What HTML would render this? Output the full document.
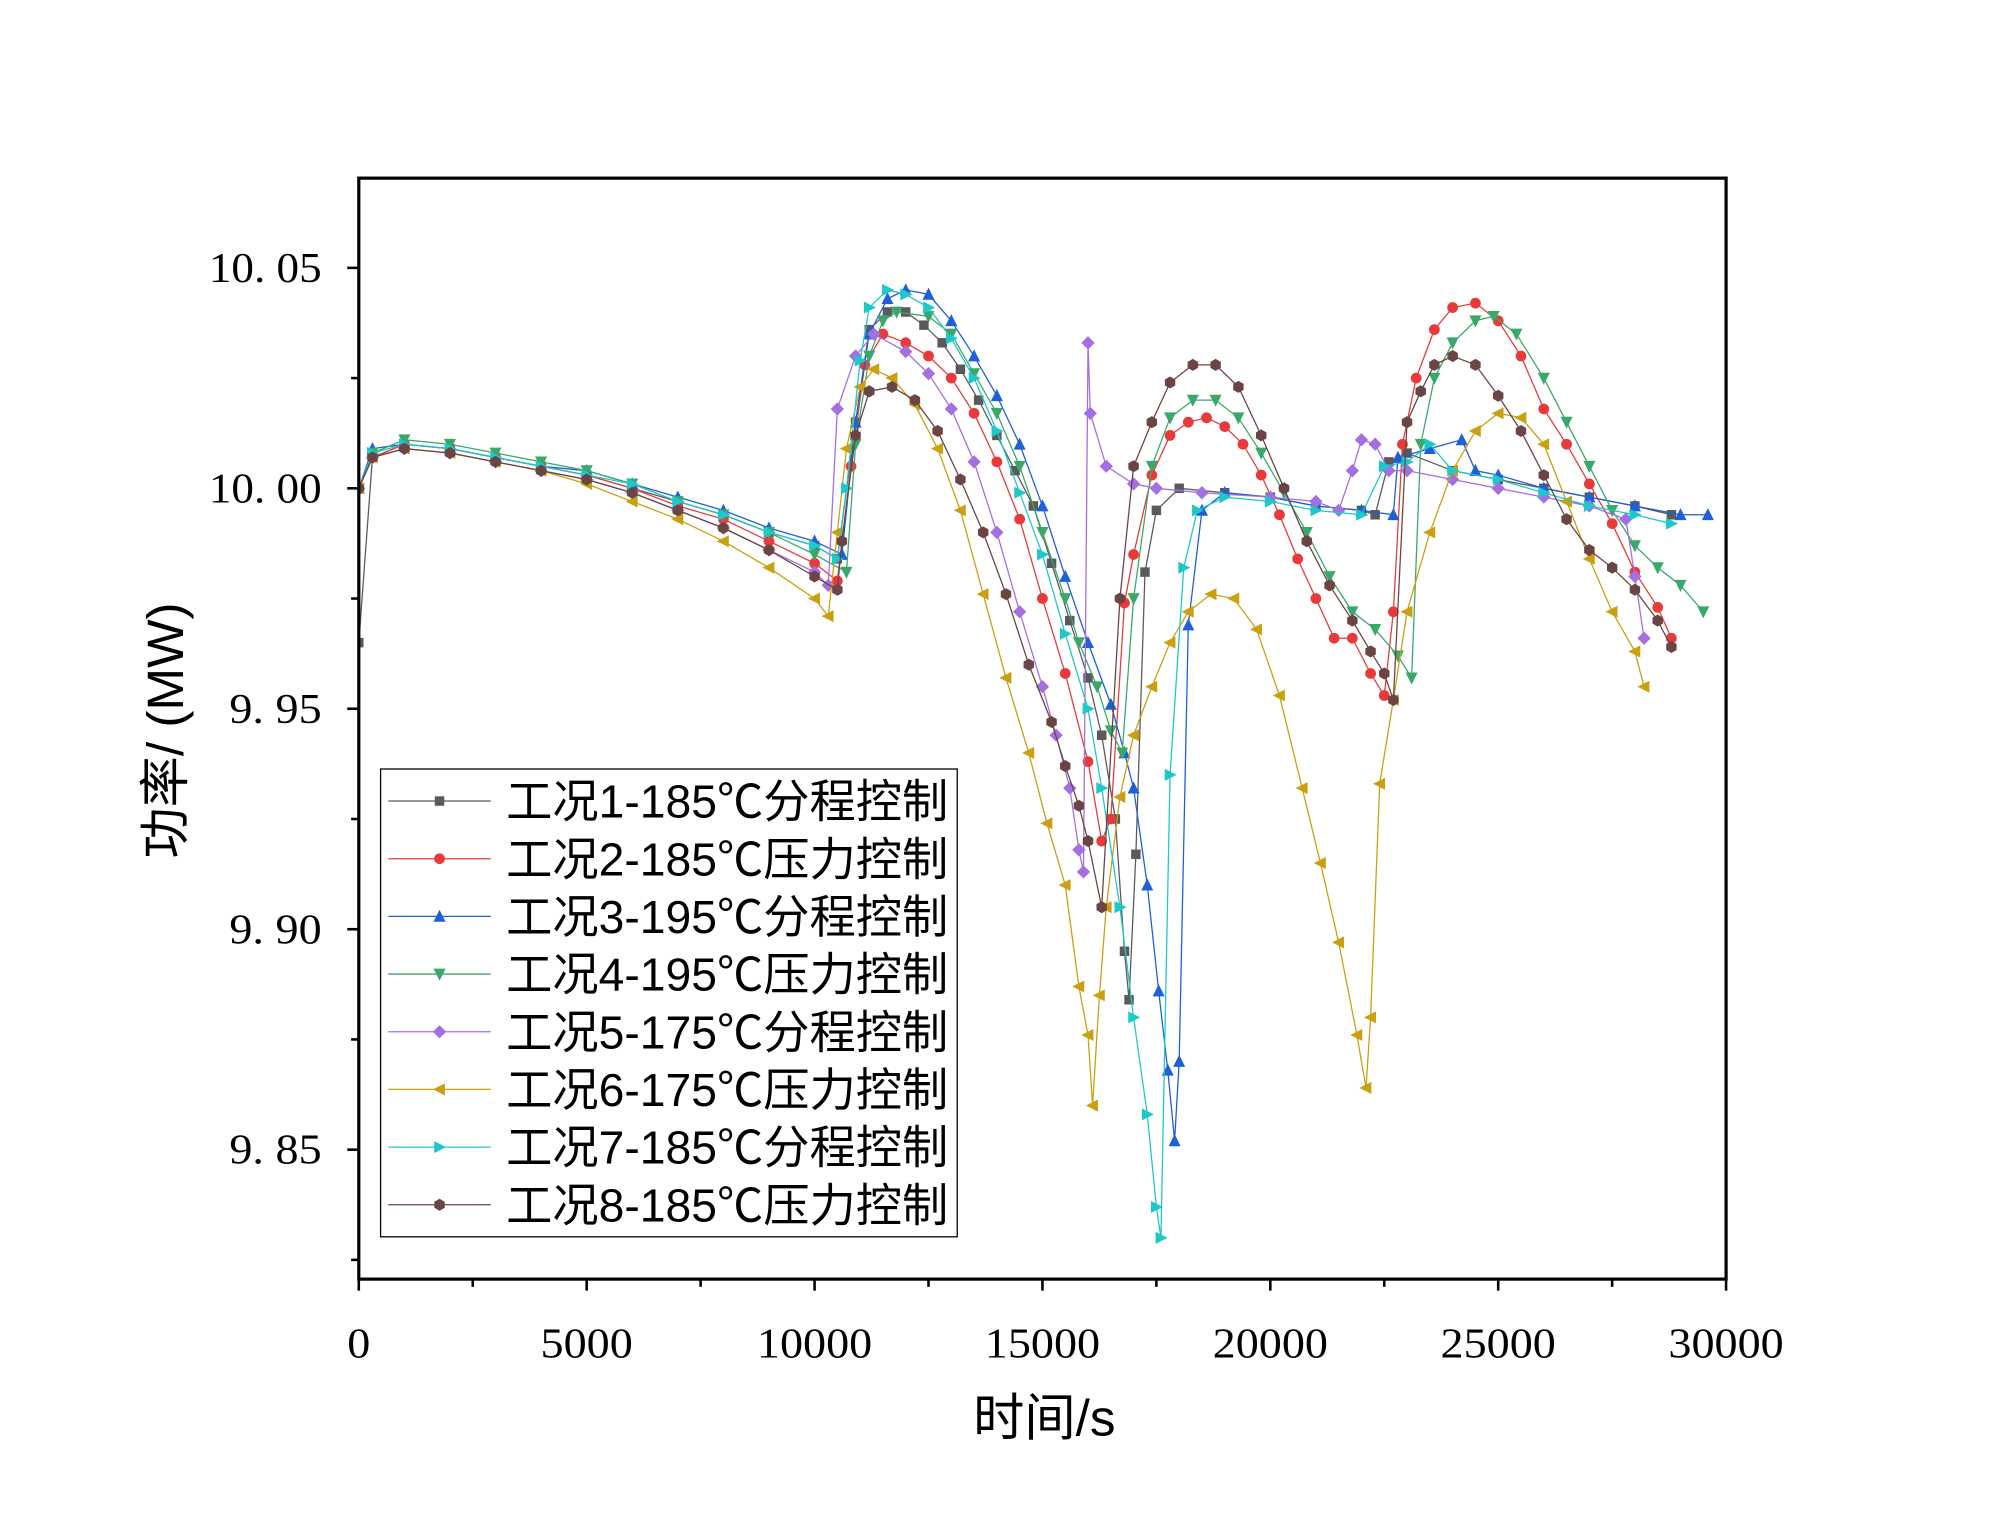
<!DOCTYPE html>
<html><head><meta charset="utf-8"><style>
html,body{margin:0;padding:0;background:#fff}
svg{display:block}
</style></head><body>
<svg id="chart" xmlns="http://www.w3.org/2000/svg" width="2008" height="1538" viewBox="0 0 1567 1200" preserveAspectRatio="none">
<rect width="1567" height="1200" fill="#fff"/>
<g id="plot"></g>
<rect x="280" y="139" width="1067" height="859" fill="none" stroke="#000" stroke-width="2.5"/>
<g id="axes"></g>
<text x="815" y="1120" text-anchor="middle" font-family="'Liberation Sans','Noto Sans CJK SC',sans-serif" font-size="40">时间/s</text>
<text transform="translate(143,570) rotate(-90)" text-anchor="middle" font-family="'Liberation Sans','Noto Sans CJK SC',sans-serif" font-size="40">功率/ (MW)</text>
<g id="legend"></g>
</svg>
<script>
const xTicks=[0,5000,10000,15000,20000,25000,30000];
const yTicks=[9.85,9.90,9.95,10.00,10.05];
const yTickLabels=["9. 85","9. 90","9. 95","10. 00","10. 05"];
const seriesNames=["工况1-185℃分程控制","工况2-185℃压力控制","工况3-195℃分程控制","工况4-195℃压力控制","工况5-175℃分程控制","工况6-175℃压力控制","工况7-185℃分程控制","工况8-185℃压力控制"];
const base=[0,300,1000,2000,3000,4000,5000,6000,7000,8000,9000,10000];
const x1=[...base,10500,10900,11200,11600,12000,12400,12800,13200,13600,14000,14400,14800,15200,15600,16000,16300,16600,16800,16900,17050,17250,17500,18000,19000,20000,21000,22000,22300,22600,23000,24000,25000,26000,27000,28000,28800];
const y1=[9.965,10.007,10.010,10.009,10.007,10.005,10.003,10.000,9.997,9.994,9.990,9.987,9.984,10.015,10.036,10.040,10.040,10.037,10.033,10.027,10.020,10.012,10.004,9.996,9.983,9.970,9.957,9.944,9.925,9.895,9.884,9.917,9.981,9.995,10.000,9.999,9.998,9.996,9.995,9.994,10.006,10.008,10.004,10.002,10.000,9.998,9.996,9.994];
const x2=[...base,10500,10800,11100,11500,12000,12500,13000,13500,14000,14500,15000,15500,16000,16300,16500,16800,17000,17400,17800,18200,18600,19000,19400,19800,20200,20600,21000,21400,21800,22200,22500,22700,22900,23200,23600,24000,24500,25000,25500,26000,26500,27000,27500,28000,28500,28800];
const y2=[10.000,10.007,10.010,10.009,10.007,10.005,10.003,10.000,9.996,9.993,9.988,9.983,9.979,10.005,10.028,10.035,10.033,10.030,10.025,10.017,10.006,9.993,9.975,9.958,9.938,9.920,9.925,9.974,9.985,10.003,10.012,10.015,10.016,10.014,10.010,10.003,9.994,9.984,9.975,9.966,9.966,9.958,9.953,9.972,10.010,10.025,10.036,10.041,10.042,10.038,10.030,10.018,10.010,10.001,9.992,9.981,9.973,9.966];
const x3=[...base,10600,10900,11200,11600,12000,12500,13000,13500,14000,14500,15000,15500,16000,16500,16800,17000,17300,17550,17750,17900,18000,18200,18500,19000,20000,21000,22000,22700,22800,23500,24200,24500,25000,26000,27000,28000,29000,29600];
const y3=[10.000,10.009,10.010,10.009,10.007,10.005,10.004,10.001,9.998,9.995,9.991,9.988,9.985,10.015,10.035,10.043,10.045,10.044,10.038,10.030,10.021,10.010,9.996,9.980,9.965,9.951,9.940,9.932,9.910,9.886,9.868,9.852,9.870,9.969,9.995,9.999,9.998,9.996,9.995,9.994,10.007,10.009,10.011,10.004,10.003,10.000,9.998,9.996,9.994,9.994];
const x4=[...base,10700,10900,11200,11500,11800,12500,13000,13500,14000,14500,15000,15500,15800,16200,16500,16750,17000,17400,17800,18300,18800,19300,19800,20300,20800,21300,21800,22300,22800,23100,23300,23600,24000,24500,24900,25400,26000,26500,27000,27500,28000,28500,29000,29500];
const y4=[10.000,10.008,10.011,10.010,10.008,10.006,10.004,10.001,9.997,9.994,9.990,9.985,9.981,10.010,10.030,10.038,10.040,10.039,10.035,10.026,10.017,10.005,9.990,9.975,9.965,9.955,9.945,9.940,9.975,10.005,10.016,10.020,10.020,10.016,10.008,9.999,9.990,9.980,9.972,9.968,9.962,9.957,10.010,10.025,10.033,10.038,10.039,10.035,10.025,10.015,10.005,9.995,9.987,9.982,9.978,9.972];
const x5=[...base,10300,10500,10900,11300,12000,12500,13000,13500,14000,14500,15000,15300,15600,15800,15900,16000,16050,16400,17000,17500,18500,20000,21000,21500,21800,22000,22300,22600,23000,24000,25000,26000,27000,27800,28000,28200];
const y5=[10.000,10.007,10.009,10.008,10.006,10.004,10.002,9.999,9.995,9.991,9.986,9.981,9.978,10.018,10.030,10.035,10.031,10.026,10.018,10.006,9.990,9.972,9.955,9.944,9.932,9.918,9.913,10.033,10.017,10.005,10.001,10.000,9.999,9.998,9.997,9.995,10.004,10.011,10.010,10.004,10.004,10.002,10.000,9.998,9.996,9.993,9.980,9.966];
const x6=[...base,10300,10500,10700,11000,11300,11700,12200,12700,13200,13700,14200,14700,15100,15500,15800,16000,16100,16250,16400,16700,17000,17400,17800,18200,18700,19200,19700,20200,20700,21100,21500,21900,22100,22200,22400,22700,23000,23500,24000,24500,25000,25500,26000,26500,27000,27500,28000,28200];
const y6=[10.000,10.007,10.009,10.008,10.006,10.004,10.001,9.997,9.993,9.988,9.982,9.975,9.971,9.990,10.009,10.023,10.027,10.025,10.019,10.009,9.995,9.976,9.957,9.940,9.924,9.910,9.887,9.876,9.860,9.885,9.905,9.930,9.944,9.955,9.965,9.972,9.976,9.975,9.968,9.953,9.932,9.915,9.897,9.876,9.864,9.880,9.933,9.952,9.972,9.990,10.004,10.013,10.017,10.016,10.010,9.997,9.984,9.972,9.963,9.955];
const x7=[...base,10500,10700,11000,11200,11600,12000,12500,13000,13500,14000,14500,15000,15500,16000,16300,16700,17000,17300,17500,17600,17800,18100,18400,19000,20000,21000,22000,22500,23000,23500,24000,25000,26000,27000,28000,28800];
const y7=[10.000,10.008,10.010,10.009,10.007,10.005,10.003,10.001,9.997,9.994,9.990,9.987,9.984,10.000,10.029,10.041,10.045,10.044,10.041,10.034,10.025,10.013,9.999,9.985,9.967,9.950,9.932,9.905,9.880,9.858,9.837,9.830,9.935,9.982,9.995,9.998,9.997,9.995,9.994,10.005,10.006,10.010,10.004,10.002,9.999,9.996,9.994,9.992];
const x8=[...base,10500,10600,10900,11200,11700,12200,12700,13200,13700,14200,14700,15200,15500,15800,16000,16300,16700,17000,17400,17800,18300,18800,19300,19800,20300,20800,21300,21800,22200,22500,22700,23000,23300,23600,24000,24500,25000,25500,26000,26500,27000,27500,28000,28500,28800];
const y8=[10.000,10.007,10.009,10.008,10.006,10.004,10.002,9.999,9.995,9.991,9.986,9.980,9.977,9.988,10.012,10.022,10.023,10.020,10.013,10.002,9.990,9.976,9.960,9.947,9.937,9.928,9.920,9.905,9.975,10.005,10.015,10.024,10.028,10.028,10.023,10.012,10.000,9.988,9.978,9.970,9.963,9.958,9.952,10.015,10.022,10.028,10.030,10.028,10.021,10.013,10.003,9.993,9.986,9.982,9.977,9.970,9.964];

const XS=[x1,x2,x3,x4,x5,x6,x7,x8];
const YS=[y1,y2,y3,y4,y5,y6,y7,y8];
const colors=["#5a5a5a","#e83a3a","#1f5fd8","#3aa86a","#a46fe0","#c9a010","#1fc8c8","#6b4444"];
const shapes=["square","circle","up","down","diamond","left","right","hex"];
const NS="http://www.w3.org/2000/svg";
const L=280,R=1347,T=139,B=998;
function sx(v){return L+(v-0)/30000*(R-L);}
function sy(v){return 209+(10.05-v)/0.05*172;}
function mk(tag,attrs,parent){const e=document.createElementNS(NS,tag);for(const k in attrs)e.setAttribute(k,attrs[k]);parent.appendChild(e);return e;}
function marker(shape,x,y,c,parent){
  const s=4.2;let e;
  if(shape==="square")e=mk("rect",{x:x-s+0.5,y:y-s+0.5,width:2*s-1,height:2*s-1,fill:c},parent);
  else if(shape==="circle")e=mk("circle",{cx:x,cy:y,r:s,fill:c},parent);
  else{
    let p;
    if(shape==="up")p=[[0,-s-1],[s+0.5,s],[-s-0.5,s]];
    else if(shape==="down")p=[[0,s+1],[s+0.5,-s],[-s-0.5,-s]];
    else if(shape==="left")p=[[-s-1,0],[s,-s-0.5],[s,s+0.5]];
    else if(shape==="right")p=[[s+1,0],[-s,-s-0.5],[-s,s+0.5]];
    else if(shape==="diamond")p=[[0,-s-1],[s+1,0],[0,s+1],[-s-1,0]];
    else {p=[];for(let i=0;i<6;i++){const a=Math.PI/3*i+Math.PI/6;p.push([Math.cos(a)*(s+0.5),Math.sin(a)*(s+0.5)]);}}
    e=mk("polygon",{points:p.map(q=>(x+q[0])+","+(y+q[1])).join(" "),fill:c},parent);
  }
  return e;
}
const plot=document.getElementById("plot");
const clip=mk("clipPath",{id:"clipP"},plot);
mk("rect",{x:L,y:T,width:R-L,height:B-T},clip);
const pg=mk("g",{"clip-path":"url(#clipP)"},plot);
for(let k=0;k<8;k++){
  const g=mk("g",{},pg);
  
  
  const pts=XS[k].map((v,i)=>sx(v)+","+sy(YS[k][i])).join(" ");
  const line=mk("polyline",{points:pts,fill:"none",stroke:colors[k],"stroke-width":1},g);
  
  
  XS[k].forEach((v,i)=>{
    const m=marker(shapes[k],sx(v),sy(YS[k][i]),colors[k],g);
    
    
  });
}
const axes=document.getElementById("axes");
const tf="'Liberation Serif','Noto Serif CJK SC',serif";
for(let v=0;v<=30000;v+=2500){
  const major=v%5000===0;
  const t=mk("line",{x1:sx(v),x2:sx(v),y1:B,y2:B+(major?9:6),stroke:"#000","stroke-width":2},axes);
  
  
}
xTicks.forEach(v=>{
  const s=String(v);
  const t=mk("text",{x:sx(v),y:1059,"text-anchor":"middle","font-family":tf,"font-size":33,textLength:s.length*18,lengthAdjust:"spacingAndGlyphs"},axes);
  t.textContent=s;
  
  
});
for(let i=0;i<=9;i++){
  const v=9.825+i*0.025;const major=i%2===1;
  const y=sy(v);if(y<T||y>B)continue;
  const t=mk("line",{x1:L-(major?9:6),x2:L,y1:y,y2:y,stroke:"#000","stroke-width":2},axes);
  
  
}
yTicks.forEach((v,i)=>{
  const s=yTickLabels[i];
  const t=mk("text",{x:251,y:sy(v)+11,"text-anchor":"end","font-family":tf,"font-size":33,textLength:s.length===6?88:72,lengthAdjust:"spacingAndGlyphs"},axes);
  t.textContent=s;
  
  
});
const lg=document.getElementById("legend");
const box=mk("rect",{x:297,y:600,width:450,height:365,fill:"#fff",stroke:"#000","stroke-width":1},lg);


seriesNames.forEach((n,k)=>{
  const y=625+k*45;
  const g=mk("g",{},lg);
  
  
  mk("line",{x1:303,x2:383,y1:y,y2:y,stroke:colors[k],"stroke-width":1},g);
  marker(shapes[k],343,y,colors[k],g);
  const t=mk("text",{x:395,y:y+13,"font-family":"'Liberation Sans','Noto Sans CJK SC',sans-serif","font-size":36,textLength:345,lengthAdjust:"spacingAndGlyphs"},g);
  t.textContent=n;
  
  
});
</script>
</body></html>
